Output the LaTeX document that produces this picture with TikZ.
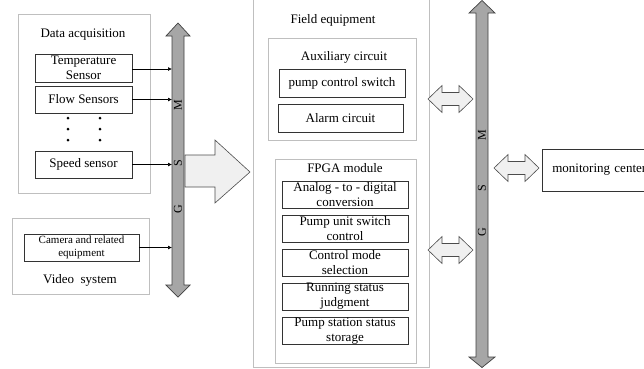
\documentclass[tikz,border=0pt]{standalone}
\usepackage{fontspec}
\setmainfont{Liberation Serif}
\usetikzlibrary{arrows.meta}
\definecolor{boxgray}{HTML}{BFBFBF}
\definecolor{busfill}{HTML}{A6A6A6}
\definecolor{busline}{HTML}{404040}
\definecolor{lightfill}{HTML}{F0F0F0}
\tikzset{
  obox/.style={draw=boxgray, line width=0.8pt, inner sep=0pt},
  ibox/.style={draw=black!80, line width=0.7pt, inner sep=0pt, align=center, font=\fontsize{13}{15}\selectfont},
  lbl/.style={inner sep=0pt, font=\fontsize{13}{15}\selectfont},
  busletter/.style={inner sep=0pt, rotate=90, font=\fontsize{12}{13}\selectfont},
  sarrow/.style={-{Latex[length=4pt,width=4pt]}, line width=0.7pt},
  dot/.style={circle, fill=black, inner sep=0pt, minimum size=3pt},
  busshape/.style={fill=busfill, draw=busline, line width=0.7pt},
  blockarrow/.style={fill=lightfill, draw=black!70, line width=0.6pt},
  pics/dblarrow/.style={code={
    \draw[blockarrow] (-22.5,0) -- (-8.5,-13.5) -- (-8.5,-6.5) -- (8.5,-6.5) -- (8.5,-13.5)
      -- (22.5,0) -- (8.5,13.5) -- (8.5,6.5) -- (-8.5,6.5) -- (-8.5,13.5) -- cycle;
  }}
}
\begin{document}
\begin{tikzpicture}[x=1pt,y=-1pt]
\useasboundingbox (0,0) rectangle (644,368);

% ---------- left: data acquisition ----------
\node[obox, minimum width=132pt, minimum height=179pt] (da) at (84,103.5) {};
\node[lbl] (datxt) at (83,35) {Data acquisition};
\node[ibox, minimum width=97pt, minimum height=28pt] (temp) at (83.5,68) {Temperature\\Sensor};
\node[ibox, minimum width=97pt, minimum height=27pt] (flow) at (83.5,99.5) {Flow Sensors};
\node[ibox, minimum width=97pt, minimum height=27pt] (speed) at (83.5,164.5) {Speed sensor};
\foreach \i/\yy in {1/118,2/129,3/140}{
  \node[dot] (dl\i) at (68,\yy) {};
  \node[dot] (dr\i) at (100,\yy) {};
}

% ---------- video system ----------
\node[obox, minimum width=137pt, minimum height=76pt] (vs) at (80.5,256) {};
\node[ibox, minimum width=115pt, minimum height=27pt, font=\fontsize{11}{13}\selectfont] (cam) at (81.5,247.5) {Camera and related\\equipment};
\node[lbl] (vstxt) at (80,280) {Video\ \ system};

% ---------- left bus ----------
\draw[busshape] (178,23) -- (190,36) -- (184,36) -- (184,285) -- (190,285) -- (178,297)
  -- (166,285) -- (172,285) -- (172,36) -- (166,36) -- cycle;
\coordinate (busL) at (172,0);
\node[busletter] (lm) at (178,105) {M};
\node[busletter] (ls) at (178,163) {S};
\node[busletter] (lg) at (178,209) {G};

\draw[sarrow] (temp.east |- 0,69) -- (busL |- 0,69);
\draw[sarrow] (flow.east) -- (flow.east -| busL);
\draw[sarrow] (speed.east) -- (speed.east -| busL);
\draw[sarrow] (cam.east) -- (cam.east -| busL);

% ---------- big block arrow ----------
\draw[blockarrow] (185,155) -- (215,155) -- (215,140) -- (250,172) -- (215,203) -- (215,187) -- (185,187) -- cycle;

% ---------- field equipment ----------
\node[obox, minimum width=176pt, minimum height=372pt] (fe) at (341,181) {};
\node[lbl] (fetxt) at (333,20) {Field equipment};

\node[obox, minimum width=148pt, minimum height=102pt] (aux) at (342,89) {};
\node[lbl] (auxtxt) at (344,57) {Auxiliary circuit};
\node[ibox, minimum width=126pt, minimum height=28pt] (pcs) at (342,83) {pump control switch};
\node[ibox, minimum width=125pt, minimum height=28pt] (alarm) at (340.5,118) {Alarm circuit};

\node[obox, minimum width=141pt, minimum height=204pt] (fpga) at (345.5,261) {};
\node[lbl] (fpgatxt) at (345,168) {FPGA module};
\node[ibox, minimum width=126pt, minimum height=27pt] (adc) at (345,194.5) {Analog - to - digital\\conversion};
\node[ibox, minimum width=126pt, minimum height=27pt] (pus) at (345,228.5) {Pump unit switch\\control};
\node[ibox, minimum width=126pt, minimum height=27pt] (cms) at (345,262.5) {Control mode\\selection};
\node[ibox, minimum width=126pt, minimum height=27pt] (rsj) at (345,296.5) {Running status\\judgment};
\node[ibox, minimum width=126pt, minimum height=27pt] (pss) at (345,331) {Pump station status\\storage};

% ---------- right bus ----------
\draw[busshape] (482,0.5) -- (495,13) -- (488,13) -- (488,357) -- (495,357) -- (482,367.5)
  -- (469,357) -- (476,357) -- (476,13) -- (469,13) -- cycle;
\node[busletter] (rm) at (482,135) {M};
\node[busletter] (rs) at (482,188) {S};
\node[busletter] (rg) at (482,232) {G};

\pic at (450.5,99) {dblarrow};
\pic at (450.5,250) {dblarrow};
\pic at (516.5,168) {dblarrow};

% ---------- monitoring center ----------
\node[ibox, minimum width=120pt, minimum height=42pt, anchor=west, text width=120pt, align=left, inner sep=0pt] (mc) at (542,170) {\hspace*{10pt}monitoring center};
\end{tikzpicture}
\end{document}
